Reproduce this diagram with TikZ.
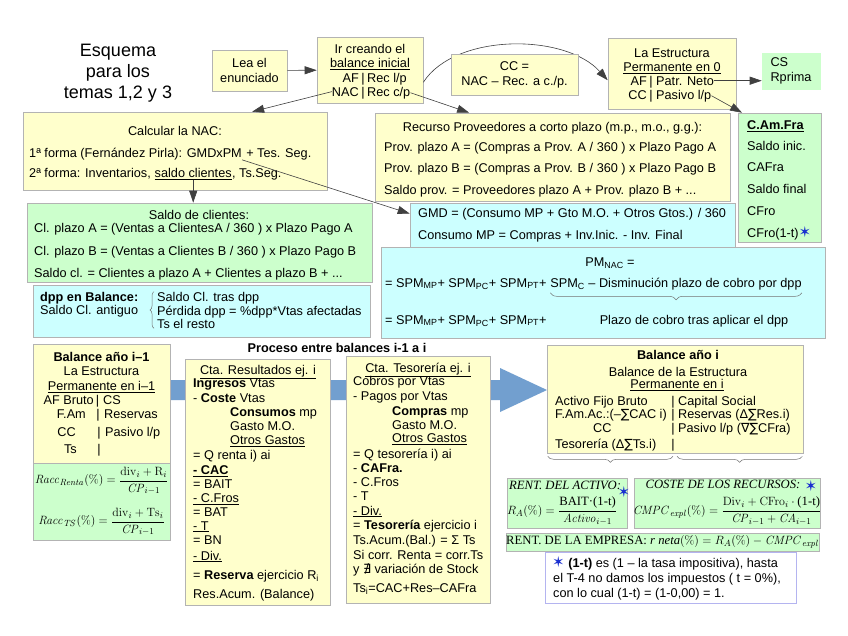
\documentclass[tikz,border=0pt]{standalone}
\usepackage{amsmath}
\usepackage[no-math]{fontspec}
\setmainfont{Liberation Sans}
\newfontfamily\serifft{Liberation Serif}
\newfontfamily\symft{DejaVu Sans}
\usetikzlibrary{arrows.meta,calc,decorations.pathreplacing}
\definecolor{boxYellow}{HTML}{FFFFCC}
\definecolor{boxGreen}{HTML}{CCFFCC}
\definecolor{boxCyan}{HTML}{CCFFFF}
\definecolor{boxLine}{HTML}{B3B3B3}
\definecolor{flowBlue}{HTML}{729FCF}
\definecolor{starBlue}{HTML}{1A2FD0}
\definecolor{noteLine}{HTML}{B4B4F0}
\newcommand{\fsize}{\fontsize{12.7}{15}\selectfont}
\newcommand{\bluestar}{{\symft\fontsize{15}{15}\selectfont\textcolor{starBlue}{✶}}}
\newcommand{\sr}[1]{\text{\serifft #1}}

\begin{document}
\begin{tikzpicture}[x=1pt,y=-1pt,font=\fsize,
    wh/.style 2 args={minimum width=#1pt,minimum height=#2pt},
    ybox/.style={draw=boxLine,fill=boxYellow,line width=0.6pt,inner sep=0pt},
    gbox/.style={ybox,fill=boxGreen},
    cbox/.style={ybox,fill=boxCyan},
    txt/.style={inner sep=0pt,anchor=base west},
    ctxt/.style={inner sep=0pt,anchor=base},
    rtxt/.style={inner sep=0pt,anchor=base east},
    arrow/.style={-{Triangle[length=12pt,width=8pt]},draw=black!75,line width=0.6pt},
    brc/.style={decorate,decoration={brace,amplitude=#1},draw=black!55,line width=0.5pt},
    brc/.default=6pt,
    mbrc/.style={brc=#1,decoration={mirror}},
    mbrc/.default=6pt]
  \fill[white] (0,0) rectangle (848,635);
  \useasboundingbox (0,0) rectangle (848,635);

  % titulo
  \node[align=center,font=\fontsize{18}{21}\selectfont] (titulo) at (118,73) {Esquema\\para los\\temas 1,2 y 3};

  % fila superior
  \node[ybox,wh={75}{41},align=center,font=\fontsize{12.7}{15}\selectfont] (lea) at (249.5,70.5) {Lea el\\enunciado};
  \node[ybox,wh={106}{66}] (balini) at (370,70) {};
  \node[ctxt] (balini1) at (370,53) {Ir creando el};
  \node[ctxt] (balini2) at (370,67) {\underline{balance inicial}};
  \node[rtxt] (af0) at (359,82) {AF};
  \node[ctxt] (bar01) at (363,82) {|};
  \node[txt] (recl) at (367,82) {Rec l/p};
  \node[rtxt] (nac0) at (359,96) {NAC};
  \node[ctxt] (bar02) at (363,96) {|};
  \node[txt] (recc) at (367,96) {Rec c/p};

  \node[ybox,wh={128}{71}] (estr) at (672,73.5) {};
  \node[ctxt] (estr1) at (672,57) {La Estructura};
  \node[ctxt] (estr2) at (672,71) {\underline{Permanente en 0}};
  \node[rtxt] (af1) at (647,85) {AF};
  \node[ctxt] (bar11) at (651,85) {|};
  \node[txt] (pneto) at (656,85) {Patr. Neto};
  \node[rtxt] (cc1) at (647,99) {CC};
  \node[ctxt] (bar12) at (651,99) {|};
  \node[txt] (pasivo0) at (656,99) {Pasivo l/p};

  \draw[arrow] (lea) -- (balini);
  \draw[arrow] (balini.-13) .. controls (455,33) and (565,33) .. (estr.186);
  \node[ybox,wh={127}{41},align=center] (cc) at (514.5,74.5) {CC =\\NAC – Rec. a c./p.};

  \node[gbox,draw=boxGreen,wh={58}{36},align=left] (cs) at (791,71) {CS\\Rprima};
  \node[gbox,wh={83}{129}] (camfra) at (779.5,177.5) {};
  \foreach \yy/\ltext in {129/{\textbf{\underline{C.Am.Fra}}},150/{Saldo inic.},171/{CAFra},
      193/{Saldo final},215/{CFro},237/{CFro(1-t)\bluestar}}
    \node[txt] (caf-\yy) at (747,\yy) {\ltext};
  \draw[arrow] (pneto.east) -- (pneto.east -| cs.west);
  \draw[arrow] (pasivo0.east) -- (camfra.120);

  % NAC
  \node[ybox,wh={304}{78}] (calcnac) at (175,151) {};
  \node[ctxt] (calc1) at (175,135) {Calcular la NAC:};
  \node[txt] (form1) at (29,157) {1ª forma (Fernández Pirla): GMDxPM};
  \node[txt] (form1b) at ([xshift=4pt]form1.base east) {+ Tes. Seg.};
  \node[txt] (form2) at (29,177) {2ª forma: Inventarios,};
  \node[txt] (scli) at ([xshift=3.5pt]form2.base east) {\underline{saldo clientes}};
  \node[txt] (form2b) at (scli.base east) {, Ts.Seg.};
  \draw[arrow] (nac0.west) -- (calcnac.27);

  \node[gbox,wh={345}{79}] (clbox) at (199.5,242.5) {};
  \node[ctxt] (cl0) at (199,219) {Saldo de clientes:};
  \node[txt] (cl1) at (34,232) {Cl. plazo A = (Ventas a ClientesA / 360 ) x Plazo Pago A};
  \node[txt] (cl2) at (34,255) {Cl. plazo B = (Ventas a Clientes B / 360 ) x Plazo Pago B};
  \node[txt] (cl3) at (34,277) {Saldo cl. = Clientes a plazo A + Clientes a plazo B + ...};
  \draw[arrow] (scli.south) -- (scli.south |- clbox.north);

  % proveedores
  \node[ybox,wh={355}{88}] (prov) at (552.5,157) {};
  \node[ctxt] (prov0) at (552.5,131) {Recurso Proveedores a corto plazo (m.p., m.o., g.g.):};
  \node[txt] (prov1) at (384,151) {Prov. plazo A = (Compras a Prov. A / 360 ) x Plazo Pago A};
  \node[txt] (prov2) at (384,172) {Prov. plazo B = (Compras a Prov. B / 360 ) x Plazo Pago B};
  \node[txt] (prov3) at (384,194) {Saldo prov. = Proveedores plazo A + Prov. plazo B + ...};
  \draw[arrow] (recc.east) -- (prov.152);

  \node[cbox,wh={325}{44}] (gmd) at (572.5,225) {};
  \node[txt] (gmd1) at (418,217) {GMD = (Consumo MP + Gto M.O. + Otros Gtos.) / 360};
  \node[txt] (gmd2) at (418,239) {Consumo MP = Compras + Inv.Inic. - Inv. Final};
  \draw[arrow] (form1.south east) -- (gmd.176);

  % PM
  \node[cbox,wh={444}{91}] (pm) at (603,292.5) {};
  \node[ctxt] (pm0) at (610,266) {PM\textsubscript{NAC} =};
  \node[txt] (spm1) at (385,287) {= SPM\textsubscript{MP}+ SPM\textsubscript{PC}+ SPM\textsubscript{PT}+};
  \node[txt] (spmc) at ([xshift=3.5pt]spm1.base east) {SPM\textsubscript{C} – Disminución plazo de cobro por dpp};
  \draw[mbrc=7pt] ([yshift=-3pt]spmc.south west) -- ([yshift=-3pt]spmc.south east);
  \node[txt] (spm2) at (385,324) {= SPM\textsubscript{MP}+ SPM\textsubscript{PC}+ SPM\textsubscript{PT}+};
  \node[ctxt] (spm3) at (694,324) {Plazo de cobro tras aplicar el dpp};

  % dpp
  \node[cbox,wh={337}{52}] (dpp) at (201.5,311) {};
  \node[txt] (dpp0) at (40,301) {\textbf{dpp en Balance:}};
  \node[txt] (dpp1) at (40,314) {Saldo Cl. antiguo};
  \node[txt] (dppa) at (157,301) {Saldo Cl. tras dpp};
  \node[txt] (dppb) at (157,315) {Pérdida dpp = \%dpp*Vtas afectadas};
  \node[txt] (dppc) at (157,328) {Ts el resto};
  \draw[brc=4pt] ([xshift=-3pt]dppc.south west) -- ([xshift=-3pt]dppa.north west);

  % proceso
  \node[ctxt,font=\bfseries\fsize] (proceso) at (337,352) {Proceso entre balances i-1 a i};
  \fill[flowBlue] (120,380) -- (500,380) -- (500,368) -- (547,390) -- (500,412) -- (500,400) -- (120,400) -- cycle;

  \node[ybox,wh={137}{119}] (bal0) at (101.5,403.5) {};
  \node[ctxt] (bal01) at (101.5,361) {\textbf{Balance año i–1}};
  \node[ctxt] (bal02) at (101.5,375) {La Estructura};
  \node[ctxt] (bal03) at (101.5,390) {\underline{Permanente en i–1}};
  \node[rtxt] (afb) at (94,404) {AF Bruto};
  \node[ctxt] (bar21) at (97.5,404) {|};
  \node[txt] (csb) at (103,404) {CS};
  \node[rtxt] (fam) at (86,418) {F.Am};
  \node[ctxt] (bar22) at (98,418) {|};
  \node[txt] (resb) at (104,418) {Reservas};
  \node[rtxt] (ccb) at (76,436) {CC};
  \node[ctxt] (bar23) at (99,436) {|};
  \node[txt] (pasb) at (105,436) {Pasivo l/p};
  \node[rtxt] (tsb) at (77,453) {Ts};
  \node[ctxt] (bar24) at (99,453) {|};

  \node[gbox,wh={137}{77}] (racc) at (101.5,501.5) {};
  \node (racc1) at (101.5,481) {$\mathit{Racc}_{\mathit{Renta}}(\%)=\dfrac{\mathrm{div}_i+\mathrm{R}_i}{\mathit{CP}_{i-1}}$};
  \node (racc2) at (101.5,522) {$\mathit{Racc}_{\mathit{TS}}(\%)=\dfrac{\mathrm{div}_i+\mathrm{Ts}_i}{\mathit{CP}_{i-1}}$};

  \node[ybox,wh={145}{246}] (ctares) at (257.5,482) {};
  \node[ctxt] (ctares0) at (258,374) {\underline{Cta. Resultados ej. i}};
  \foreach \xx/\yy/\ltext in {193/387/{\textbf{Ingresos} Vtas},193/402/{- \textbf{Coste} Vtas},
      230/416/{\textbf{Consumos} mp},230/430/{Gasto M.O.},230/444/{\underline{Otros Gastos}},
      193/459/{= Q renta i) ai},193/474/{\underline{\textbf{- CAC}}},193/488/{= BAIT},
      193/502/{\underline{- C.Fros}},193/516/{= BAT},193/530/{\underline{- T}},193/544/{= BN},
      193/560/{\underline{- Div.}},193/579/{= \textbf{Reserva} ejercicio R\textsubscript{i}},
      193/598/{Res.Acum. (Balance)}}
    \node[txt] (cr-\yy) at (\xx,\yy) {\ltext};

  \node[ybox,wh={144}{247}] (ctats) at (418,479.5) {};
  \node[ctxt] (ctats0) at (418,372) {\underline{Cta. Tesorería ej. i}};
  \foreach \xx/\yy/\ltext in {353/385/{Cobros por Vtas},353/400/{- Pagos por Vtas},
      392/415/{\textbf{Compras} mp},392/429/{Gasto M.O.},392/442/{\underline{Otros Gastos}},
      353/458/{= Q tesorería i) ai},353/472/{- \textbf{CAFra.}},353/486/{- C.Fros},353/500/{- T},
      353/515/{\underline{- Div.}},353/529/{= \textbf{Tesorería} ejercicio i},
      353/544/{Ts.Acum.(Bal.) = Σ  Ts},353/559/{Si corr. Renta = corr.Ts},
      353/573/{y {\symft ∄} variación de Stock},353/592/{Ts\textsubscript{i}=CAC+Res–CAFra}}
    \node[txt] (ct-\yy) at (\xx,\yy) {\ltext};

  % balance i
  \node[ybox,wh={256}{108}] (bali) at (675,399) {};
  \node[ctxt] (bali1) at (678,359) {\textbf{Balance año i}};
  \node[ctxt] (bali2) at (678,376) {Balance de la Estructura};
  \node[ctxt] (bali3) at (677,388) {\underline{Permanente en i}};
  \node[txt] (afi) at (555,405) {Activo Fijo Bruto};
  \node[txt] (fami) at (555,418) {F.Am.Ac.:(–{\symft ∑}CAC i)};
  \node[txt] (cci) at (593,432) {CC};
  \node[txt] (tsi) at (555,448) {Tesorería (Δ{\symft ∑}Ts.i)};
  \foreach \yy in {405,418,432,448}
    \node[ctxt] (bari-\yy) at (673,\yy) {|};
  \node[txt] (csi) at (678,405) {Capital Social};
  \node[txt] (resi) at (678,418) {Reservas (Δ{\symft ∑}Res.i)};
  \node[txt] (pasi) at (678,432) {Pasivo l/p ({\symft ∇∑}CFra)};
  \draw[mbrc] ($(bali.south west)+(1,3)$) -- ($(bali.south)+(-2,3)$);
  \draw[mbrc] ($(bali.south)+(2,3)$) -- ($(bali.south east)+(-1,3)$);

  \node[gbox,wh={120}{50}] (ract) at (567,503) {};
  \node[ctxt,font=\serifft\itshape\fsize] (ract0) at (565,489) {RENT. DEL ACTIVO:};
  \node (ract1) at (562,511) {$R_A(\%)=\dfrac{\sr{BAIT·(1-t)}}{\mathit{Activo}_{i-1}}$};
  \node[inner sep=0pt] (star1) at (624,492) {\bluestar};

  \node[gbox,wh={186}{50}] (crec) at (727,503) {};
  \node[ctxt,font=\serifft\itshape\fsize] (crec0) at (723,488) {COSTE DE LOS RECURSOS:};
  \node[inner sep=0pt] (star2) at (811,486) {\bluestar};
  \node (crec1) at (727,511) {$\mathit{CMPC}_{\mathit{expl}}(\%)=\dfrac{\mathrm{Div}_i+\mathrm{CFro}_i\cdot\sr{(1-t)}}{\mathit{CP}_{i-1}+\mathit{CA}_{i-1}}$};

  \node[gbox,wh={311}{18}] (remp) at (662.5,542) {{\serifft RENT. DE LA EMPRESA: \itshape r neta\/}$(\%)=R_A(\%)-\mathit{CMPC}_{\mathit{expl}}$};

  \node[draw=noteLine,fill=white,line width=0.8pt,wh={251}{51}] (nota) at (670.5,577.5) {};
  \node[txt] (nota1) at (552,567) {\bluestar\ \textbf{(1-t)} es (1 – la tasa impositiva), hasta};
  \node[txt] (nota2) at (553,582) {el T-4 no damos los impuestos ( t = 0\%),};
  \node[txt] (nota3) at (553,597) {con lo cual (1-t) = (1-0,00) = 1.};
\end{tikzpicture}
\end{document}
